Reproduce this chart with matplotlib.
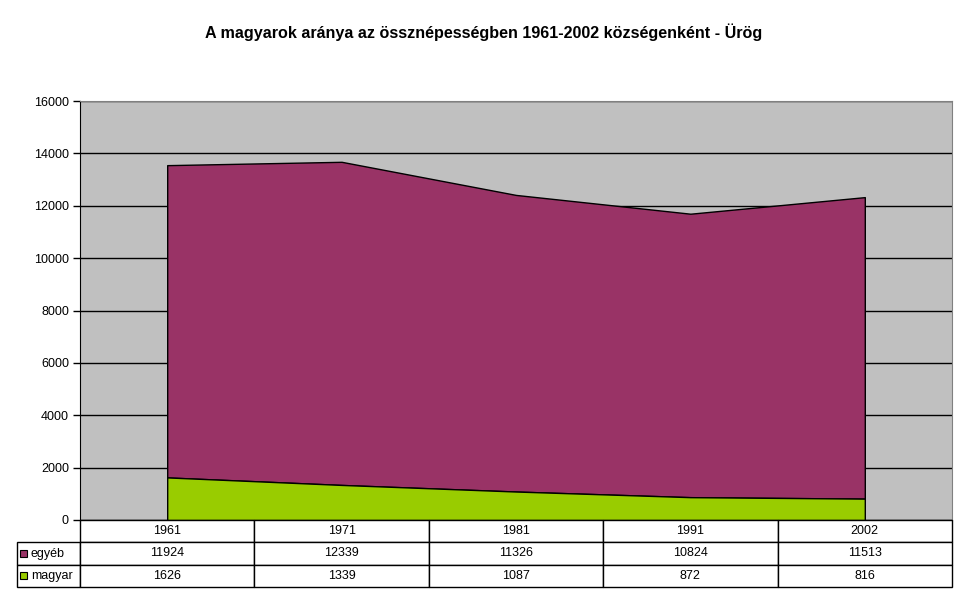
import matplotlib.pyplot as plt
from matplotlib.patches import Rectangle

years = ["1961", "1971", "1981", "1991", "2002"]
egyeb = [11924, 12339, 11326, 10824, 11513]
magyar = [1626, 1339, 1087, 872, 816]
series_names = ["egyéb", "magyar"]
series_colors = ["#993366", "#99CC00"]

plt.rcParams["font.family"] = ["Liberation Sans", "DejaVu Sans"]

W, H = 968, 604
fig = plt.figure(figsize=(W / 100, H / 100), dpi=100)
fig.patch.set_facecolor("white")


def fx(px):
    return px / W


def fy(py):
    return 1 - py / H


# plot area in pixels
px_l, px_r, px_t, px_b = 80, 952, 101, 520
ax = fig.add_axes([fx(px_l), fy(px_b), (px_r - px_l) / W, (px_b - px_t) / H])
ax.set_facecolor("#C0C0C0")

x = list(range(len(years)))
total = [a + b for a, b in zip(egyeb, magyar)]
ax.fill_between(x, magyar, total, facecolor=series_colors[0],
                edgecolor="black", linewidth=1.0, zorder=3)
ax.fill_between(x, 0, magyar, facecolor=series_colors[1],
                edgecolor="black", linewidth=1.0, zorder=3)

ax.set_xlim(-0.5, len(years) - 0.5)
ax.set_ylim(0, 16000)
ax.set_yticks(range(0, 16001, 2000))
ax.yaxis.grid(True, color="black", linewidth=1.0, zorder=1)
ax.set_axisbelow(True)
ax.tick_params(axis="y", direction="out", length=5, width=1, labelsize=9, pad=3)
ax.set_xticks([])
for side in ["top", "right"]:
    ax.spines[side].set_color("#808080")
ax.spines["left"].set_color("black")
ax.spines["bottom"].set_color("black")

# data table under the plot, drawn cell by cell
tb_l, tb_b = 17, 587
col_w = (px_r - px_l) / len(years)
row_h = (tb_b - px_b) / 3
rows = [egyeb, magyar]


def cell(x0, y0, w, h):
    fig.add_artist(Rectangle((fx(x0), fy(y0 + h)), w / W, h / H,
                             facecolor="white", edgecolor="black", linewidth=1.0,
                             transform=fig.transFigure))


for j, yr in enumerate(years):
    x0 = px_l + j * col_w
    cell(x0, px_b, col_w, row_h)
    fig.text(fx(x0 + col_w / 2), fy(px_b + row_h / 2), yr,
             ha="center", va="center", fontsize=9)

for i, (name, vals, c) in enumerate(zip(series_names, rows, series_colors)):
    y0 = px_b + row_h * (i + 1)
    cell(tb_l, y0, px_l - tb_l, row_h)
    fig.add_artist(Rectangle((fx(tb_l + 3), fy(y0 + row_h / 2 + 3.5)), 7 / W, 7 / H,
                             facecolor=c, edgecolor="black", linewidth=0.8,
                             transform=fig.transFigure))
    fig.text(fx(tb_l + 14), fy(y0 + row_h / 2), name,
             ha="left", va="center", fontsize=9)
    for j, v in enumerate(vals):
        x0 = px_l + j * col_w
        cell(x0, y0, col_w, row_h)
        fig.text(fx(x0 + col_w / 2), fy(y0 + row_h / 2), str(v),
                 ha="center", va="center", fontsize=9)

fig.text(fx(484), fy(32),
         "A magyarok aránya az össznépességben 1961-2002 községenként - Ürög",
         ha="center", va="center", fontsize=11.6, fontweight="bold")

fig.savefig("out.png", dpi=100)
